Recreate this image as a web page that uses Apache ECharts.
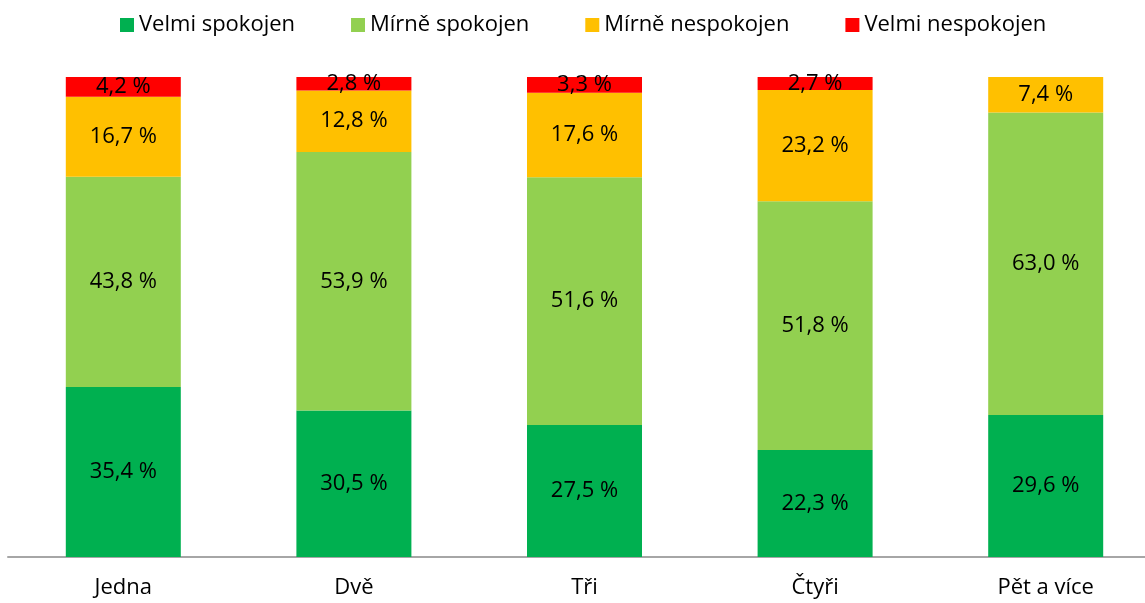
<!DOCTYPE html>
<html>
<head>
<meta charset="utf-8">
<script src="https://cdn.jsdelivr.net/npm/echarts@6/dist/echarts.min.js"></script>
<style>
  html, body { margin: 0; padding: 0; background: #fff; overflow: hidden; }
  #chart { width: 1161px; height: 603px; }
</style>
</head>
<body>
<div id="chart"></div>
<script>
var categories = ['Jedna', 'Dvě', 'Tři', 'Čtyři', 'Pět a více'];
var velmiSpokojen = [35.4, 30.5, 27.5, 22.3, 29.6];
var mirneSpokojen = [43.8, 53.9, 51.6, 51.8, 63.0];
var mirneNespokojen = [16.7, 12.8, 17.6, 23.2, 7.4];
var velmiNespokojen = [4.2, 2.8, 3.3, 2.7, 0];

var fontFamily = '"Open Sans", sans-serif';

function pct(p) {
    if (!p.value) return '';
    return p.value.toFixed(1).replace('.', ',') + ' %';
}

function serie(name, data, color) {
    return {
        name: name,
        type: 'bar',
        stack: 'total',
        barWidth: 115,
        data: data,
        itemStyle: { color: color },
        label: {
            show: true,
            position: 'inside',
            color: '#000',
            fontFamily: fontFamily,
            fontSize: 22,
            formatter: pct
        }
    };
}

// the plot runs past the right edge of the window, as in the original
var myChart = echarts.init(document.getElementById('chart'));
var option = {
    animation: false,
    legend: {
        top: 9,
        left: 115,
        icon: 'rect',
        itemWidth: 14,
        itemHeight: 14,
        itemGap: 56,
        textStyle: { fontFamily: fontFamily, fontSize: 22, color: '#000' },
        data: ['Velmi spokojen', 'Mírně spokojen', 'Mírně nespokojen', 'Velmi nespokojen']
    },
    grid: { left: 8, right: 0, top: 77, bottom: 46 },
    xAxis: {
        type: 'category',
        data: categories,
        axisLine: { lineStyle: { color: '#a6a6a6', width: 2 } },
        axisTick: { show: false },
        axisLabel: { color: '#000', fontFamily: fontFamily, fontSize: 22, margin: 20 }
    },
    yAxis: {
        type: 'value',
        min: 0,
        max: 100,
        show: false,
        splitLine: { show: false }
    },
    series: [
        serie('Velmi spokojen', velmiSpokojen, '#00b050'),
        serie('Mírně spokojen', mirneSpokojen, '#92d050'),
        serie('Mírně nespokojen', mirneNespokojen, '#ffc000'),
        serie('Velmi nespokojen', velmiNespokojen, '#ff0000')
    ]
};
myChart.setOption(option);
</script>
</body>
</html>
